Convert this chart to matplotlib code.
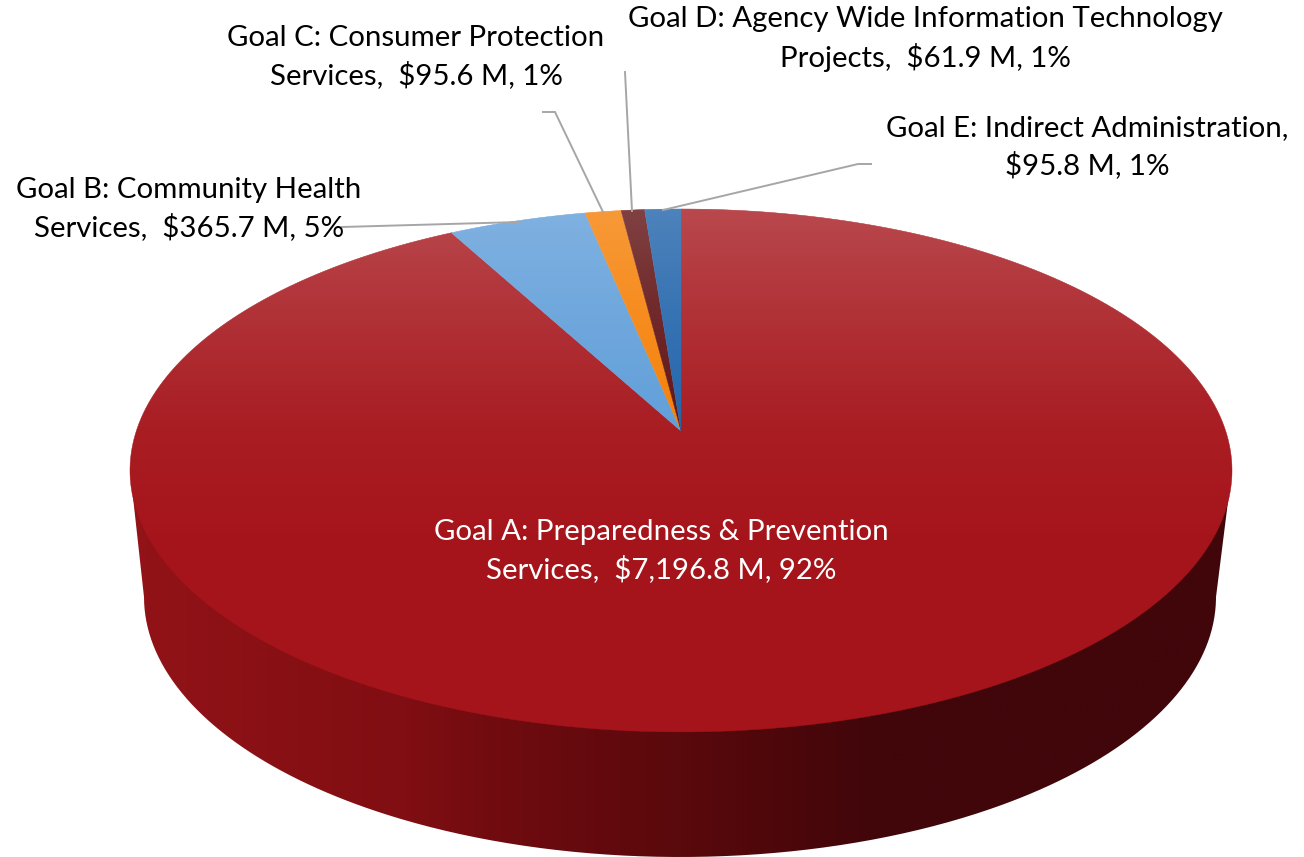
import numpy as np
import matplotlib
matplotlib.use("Agg")
import matplotlib.pyplot as plt
from matplotlib.colors import LinearSegmentedColormap
from matplotlib.patches import PathPatch
from matplotlib.path import Path

# Donnees
goals = ["Goal A", "Goal B", "Goal C", "Goal D", "Goal E"]
budget = [7196.8, 365.7, 95.6, 61.9, 95.8]
labels = [
    "Goal A: Preparedness & Prevention\nServices,  $7,196.8 M, 92%",
    "Goal B: Community Health\nServices,  $365.7 M, 5%",
    "Goal C: Consumer Protection\nServices,  $95.6 M, 1%",
    "Goal D: Agency Wide Information Technology\nProjects,  $61.9 M, 1%",
    "Goal E: Indirect Administration,\n$95.8 M, 1%",
]
colors = ["#a5141a", "#5b9bd8", "#f57c00", "#5c0a0c", "#1a5fa8"]
label_xy = [(661, 551), (189, 209), (416, 57), (925, 39), (1087, 147)]
label_color = ["white", "black", "black", "black", "black"]

# Traits de rappel (pixels de l'image)
leaders = {
    "Goal B": [(342, 227), (520, 222)],
    "Goal C": [(543, 112), (555, 112), (603, 212)],
    "Goal D": [(625, 72), (632, 211)],
    "Goal E": [(871, 164), (858, 164), (663, 210)],
}

# Projection du disque : centre du camembert et perspective
cx, cy = 681, 431
k, a, b = 0.151, 255.5, 544.7


def projete(theta):
    # theta en sens horaire depuis midi
    x, y = np.sin(theta), np.cos(theta)
    w = 1 + k * y
    return cx + b * x / w, cy - a * y / w


def degrade(ax, path, cmap, extent, vertical):
    # Remplit un chemin avec un degrade
    grad = np.linspace(0, 1, 512)
    grad = grad[:, None] if vertical else grad[None, :]
    im = ax.imshow(grad, cmap=cmap, extent=extent, aspect="auto", vmin=0, vmax=1, zorder=2)
    im.set_clip_path(PathPatch(path, transform=ax.transData))
    return im


fig = plt.figure(figsize=(13.04, 8.57), dpi=100)
ax = fig.add_axes([0, 0, 1, 1])
plt.rcParams["font.family"] = ["Lato", "DejaVu Sans"]

# Flanc
t = np.linspace(0, 2 * np.pi, 721)
top_x, top_y = projete(t)
il, ir = np.argmin(top_x), np.argmax(top_x)
s = np.linspace(np.pi, 0, 400)
bot_x = 680 + 536 * np.cos(s)
bot_y = 597 + 260 * np.sin(s)
side_x = np.r_[top_x[il], bot_x, top_x[ir]]
side_y = np.r_[top_y[il], bot_y, top_y[ir]]
side_path = Path(np.c_[side_x, side_y])
side_cmap = LinearSegmentedColormap.from_list("flanc", [
    (0.0, "#921318"), (0.25, "#800e12"), (0.32, "#720c10"), (0.42, "#640a0e"),
    (0.50, "#5a090c"), (0.60, "#4c070a"), (0.68, "#40060a"), (1.0, "#40060a"),
])
degrade(ax, side_path, side_cmap, (130, 1232, 857, 400), False)

# Parts du dessus, sens horaire depuis midi
angles = np.r_[0, np.cumsum(budget)] / np.sum(budget) * 2 * np.pi
for i in range(len(budget)):
    th = np.linspace(angles[i], angles[i + 1], 300)
    px, py = projete(th)
    ax.fill(np.r_[cx, px], np.r_[cy, py], color=colors[i], lw=0.3, zorder=3)

# Reflet blanc vers le haut du disque
reflet = np.zeros((512, 1, 4))
reflet[:, 0, :3] = 1
reflet[:, 0, 3] = np.interp(np.linspace(205, 600, 512), [205, 300, 430, 560], [0.23, 0.14, 0.04, 0.0])
im = ax.imshow(reflet, extent=(120, 1240, 600, 205), aspect="auto", zorder=4)
im.set_clip_path(PathPatch(Path(np.c_[top_x, top_y]), transform=ax.transData))

# Traits de rappel
for pts in leaders.values():
    ax.plot(*zip(*pts), color="#a6a6a6", lw=1.4, zorder=5, solid_joinstyle="miter")

# Etiquettes
for lab, (lx, ly), col in zip(labels, label_xy, label_color):
    ax.text(lx, ly, lab, ha="center", va="center", ma="center", color=col,
            fontsize=21.2, linespacing=1.42, family=["Lato", "DejaVu Sans"], zorder=6)

ax.set_xlim(0, 1304)
ax.set_ylim(857, 0)
ax.axis("off")
fig.savefig("out.png", dpi=100)
